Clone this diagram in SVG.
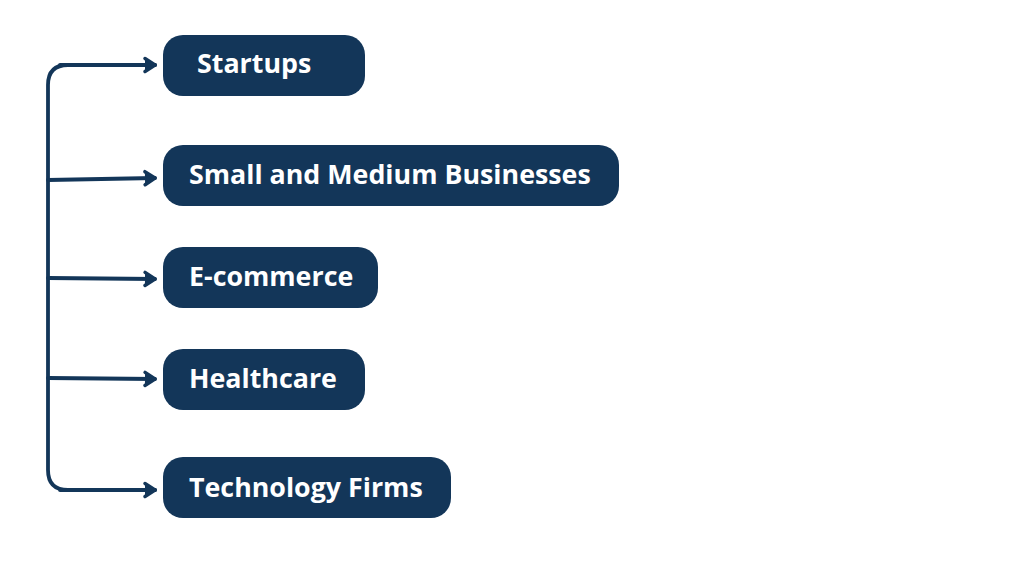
<svg xmlns="http://www.w3.org/2000/svg" width="1024" height="564" viewBox="0 0 1024 564">
<style>
.box{fill:#133659}
.lbl{font-family:"Open Sans","Liberation Sans",sans-serif;font-weight:700;font-size:26.8px;fill:#ffffff}
.conn{fill:none;stroke:#133659;stroke-width:3.8;stroke-linecap:round;stroke-linejoin:round}
</style>
<defs>
<marker id="ah" markerUnits="userSpaceOnUse" markerWidth="18" markerHeight="20" refX="14" refY="9" orient="auto" viewBox="0 0 18 18">
<path d="M4,2.5 L14,9 L4,15.5" fill="#133659" stroke="#133659" stroke-width="3.5" stroke-linejoin="round" stroke-linecap="round"/>
</marker>
</defs>
<g id="connectors">
<path class="conn" d="M155,65 H68 Q48,65 48,85 V470 Q48,490 68,490 H155"/>
<path class="conn" d="M60,65 H155" marker-end="url(#ah)"/>
<path class="conn" d="M60,490 H155" marker-end="url(#ah)"/>
<path class="conn" d="M48,180 L155,178" marker-end="url(#ah)"/>
<path class="conn" d="M48,278 L155,279" marker-end="url(#ah)"/>
<path class="conn" d="M48,378 L155,379" marker-end="url(#ah)"/>
</g>
<g id="startups">
<rect class="box" x="163" y="35" width="202" height="61" rx="20"/>
<text class="lbl" x="197" y="73">Startups</text>
</g>
<g id="smb">
<rect class="box" x="163" y="145" width="456" height="61" rx="20"/>
<text class="lbl" x="189" y="184">Small and Medium Businesses</text>
</g>
<g id="ecommerce">
<rect class="box" x="163" y="247" width="215" height="61" rx="20"/>
<text class="lbl" x="189" y="286">E-commerce</text>
</g>
<g id="healthcare">
<rect class="box" x="163" y="349" width="202" height="61" rx="20"/>
<text class="lbl" x="189" y="388">Healthcare</text>
</g>
<g id="technology">
<rect class="box" x="163" y="457" width="288" height="61" rx="20"/>
<text class="lbl" x="189" y="497">Technology Firms</text>
</g>
</svg>
